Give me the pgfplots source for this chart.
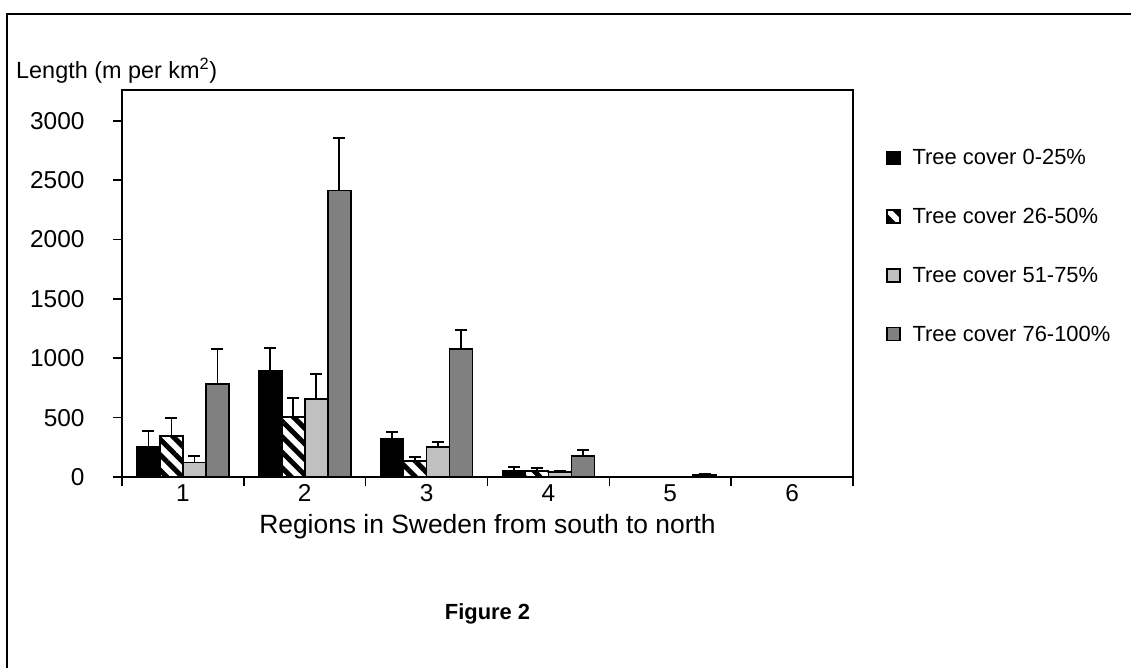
\documentclass[border=0pt]{standalone}
\usepackage{pgfplots}
\pgfplotsset{compat=1.18}
\usepackage{pgfplotstable}
\usepackage{fontspec}
\setmainfont{Liberation Sans}
\usetikzlibrary{patterns.meta}

\pgfplotstableread{
x a ae b be c ce d de
1 255 132 345 155 121 56 784 291
2 893 195 503 165 657 211 2413 444
3 318 59 135 31 253 39 1079 160
4 56 31 50 23 42 11 177 51
5 1 0 1 0 1 0 15 8
6 0 0 0 0 0 0 1 0
}\data

\pgfplotsset{
  errstyle/.style={
    error bars/.cd, y dir=plus, y explicit,
    error bar style={line width=1.8bp, black, solid},
    error mark options={rotate=90, line width=1.8bp, mark size=6bp, black, solid},
  },
}

\begin{document}
\begin{tikzpicture}
\path[use as bounding box] (0bp,0bp) rectangle (1131bp,-668bp);
\draw[line width=2.2bp] (7bp,-668bp) -- (7bp,-14bp) -- (1131bp,-14bp);
\node[anchor=base west, inner sep=0pt, font=\fontsize{23.5}{28}\selectfont] at (16bp,-78bp) {Length (m per km\textsuperscript{2})};
\node[anchor=base, inner sep=0pt, font=\fontsize{26.5}{31}\selectfont] at (487.5bp,-533bp) {Regions in Sweden from south to north};
\node[anchor=base, inner sep=0pt, font=\bfseries\fontsize{22}{26}\selectfont] at (487.5bp,-619bp) {Figure 2};
\begin{axis}[
  at={(122bp,-477bp)}, anchor=south west,
  scale only axis, width=731bp, height=387bp,
  xmin=0.5, xmax=6.5, ymin=0, ymax=3260,
  ybar=0pt, bar width=23bp,
  xtick={1,...,6}, xticklabels={1,2,3,4,5,6},
  minor xtick={0.5,1.5,...,6.5},
  major x tick style={draw=none},
  ytick={0,500,...,3000},
  tick align=outside, tick pos=left,
  major tick length=9bp, minor tick length=9bp,
  tick style={line width=1.6bp, black},
  axis line style={line width=1.8bp},
  tick label style={font=\fontsize{24.5}{28}\selectfont},
  yticklabel style={xshift=-25bp},
  xticklabel style={yshift=5bp},
  /pgf/number format/assume math mode=true,
  /pgf/number format/1000 sep={},
  legend image code/.code={\draw[#1, line width=1.5bp] (0bp,-6.5bp) rectangle (13bp,6.5bp);},
  legend style={at={(1.045,0.852)}, anchor=north west, draw=none, fill=none,
    font=\fontsize{22}{26}\selectfont, row sep=38bp, inner sep=0pt,
    /tikz/every odd column/.append style={column sep=10bp}},
  legend cell align=left,
]
\addplot[fill=black, draw=black, line width=1.6bp, errstyle] table[x=x, y=a, y error=ae] {\data};
\addplot[fill=white, draw=black, line width=1.6bp, postaction={pattern={Lines[angle=-45,distance=11bp,line width=5bp]}}, errstyle] table[x=x, y=b, y error=be] {\data};
\addplot[fill={rgb,255:red,192;green,192;blue,192}, draw=black, line width=1.6bp, errstyle] table[x=x, y=c, y error=ce] {\data};
\addplot[fill={rgb,255:red,128;green,128;blue,128}, draw=black, line width=1.6bp, errstyle] table[x=x, y=d, y error=de] {\data};
\legend{Tree cover 0-25\%, Tree cover 26-50\%, Tree cover 51-75\%, Tree cover 76-100\%}
\end{axis}
\end{tikzpicture}
\end{document}
